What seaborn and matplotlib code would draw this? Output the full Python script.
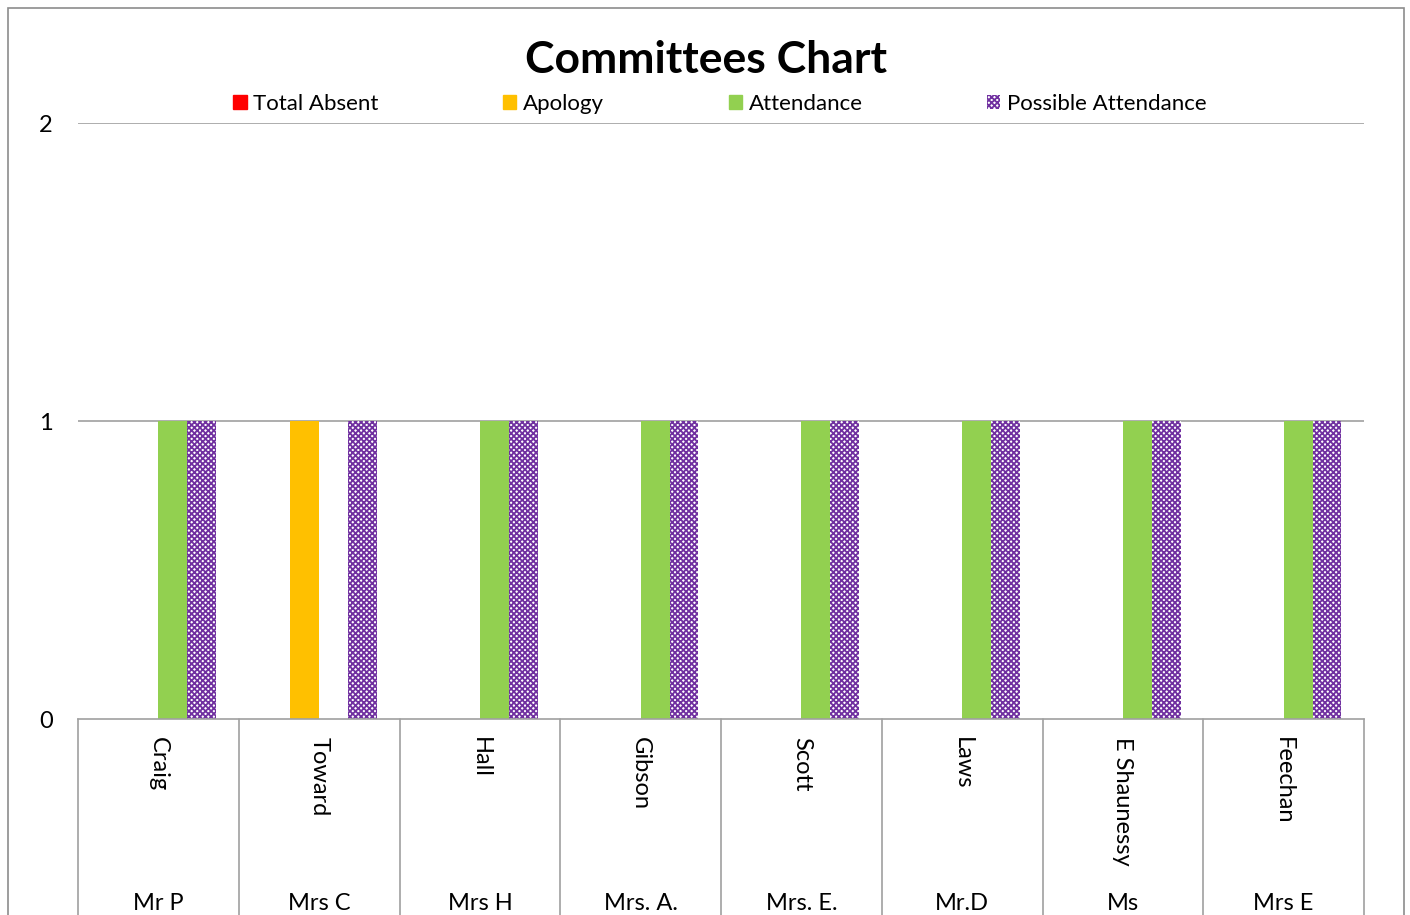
import pandas as pd
import numpy as np
import matplotlib.pyplot as plt
import seaborn as sns
from matplotlib.patches import Patch, Rectangle

# chart data
surnames = ['Craig', 'Toward', 'Hall', 'Gibson', 'Scott', 'Laws', 'E Shaunessy', 'Feechan']
titles = ['Mr P', 'Mrs C', 'Mrs H', 'Mrs. A.', 'Mrs. E.', 'Mr.D', 'Ms', 'Mrs E']
series = ['Total Absent', 'Apology', 'Attendance', 'Possible Attendance']
total_absent = [0, 0, 0, 0, 0, 0, 0, 0]
apology = [0, 1, 0, 0, 0, 0, 0, 0]
attendance = [1, 0, 1, 1, 1, 1, 1, 1]
possible = [1, 1, 1, 1, 1, 1, 1, 1]
colors = ['#FF0000', '#FFC000', '#92D050', '#7030A0']

rows = []
for name, vals in zip(series, [total_absent, apology, attendance, possible]):
    for s, v in zip(surnames, vals):
        rows.append({'member': s, 'series': name, 'value': v})
df = pd.DataFrame(rows)

sns.set_theme(style='white')
plt.rcParams['font.family'] = ['Lato', 'DejaVu Sans']
plt.rcParams['hatch.linewidth'] = 1.3
plt.rcParams['text.color'] = 'black'
plt.rcParams['xtick.color'] = 'black'
plt.rcParams['ytick.color'] = 'black'

W, H = 1410, 915
fig = plt.figure(figsize=(W / 100, H / 100), dpi=100)
ax = fig.add_axes([78 / W, 1 - 719 / H, (1364 - 78) / W, (719 - 123) / H])

sns.barplot(data=df, x='member', y='value', hue='series', hue_order=series,
            palette=colors, width=0.72, gap=0, dodge=True, ax=ax,
            legend=False, saturation=1, linewidth=0)

# patterned "Possible Attendance" bars
for p in ax.containers[3]:
    p.set_facecolor('white')
    p.set_edgecolor('#7030A0')
    p.set_hatch('xxxxxx')
    p.set_linewidth(0)

ax.set_xlim(-0.5, len(surnames) - 0.5)
ax.set_ylim(0, 2)
ax.set_yticks([0, 1, 2])
ax.set_yticklabels(['0', '1', '2'], fontsize=17)
ax.tick_params(axis='y', length=0, pad=18)
ax.set_xticks(range(len(surnames)))
ax.set_xticklabels(surnames, rotation=270, fontsize=17, va='top', ha='center')
ax.tick_params(axis='x', length=0, pad=13)
ax.set_xlabel('')
ax.set_ylabel('')

grid_c = '#a0a0a0'
for y in [1, 2]:
    ax.axhline(y, color=grid_c, lw=1.2, zorder=0)
for side in ['left', 'right', 'top']:
    ax.spines[side].set_visible(False)
ax.spines['bottom'].set_color(grid_c)
ax.spines['bottom'].set_linewidth(1.2)

# category separators and second label row
trans = ax.get_xaxis_transform()
for b in np.arange(-0.5, len(surnames), 1.0):
    ax.plot([b, b], [0, -0.4], color=grid_c, lw=1.2, transform=trans, clip_on=False)
for i, t in enumerate(titles):
    ax.text(i, -0.292, t, transform=trans, ha='center', va='top', fontsize=17, clip_on=False)

fig.text(706 / W, 1 - 60 / H, 'Committees Chart', ha='center', va='center',
         fontsize=32, fontweight='bold', color='black')

handles = []
for name, c in zip(series, colors):
    if name == 'Possible Attendance':
        handles.append(Patch(facecolor='white', edgecolor='#7030A0', hatch='xxxxxx', linewidth=0, label=name))
    else:
        handles.append(Patch(facecolor=c, edgecolor=c, label=name))
fig.legend(handles=handles, loc='center', bbox_to_anchor=(720 / W, 1 - 104 / H), ncol=4,
           frameon=False, fontsize=16, handlelength=0.6, handleheight=0.6,
           handletextpad=0.3, columnspacing=5.6)

fig.add_artist(Rectangle((8 / W, -0.1), (1404 - 8) / W, 1.1 - 8 / H + 0.0,
                         transform=fig.transFigure, fill=False, edgecolor='#8c8c8c',
                         lw=1.2, clip_on=False))

fig.savefig('out.png', dpi=100)
